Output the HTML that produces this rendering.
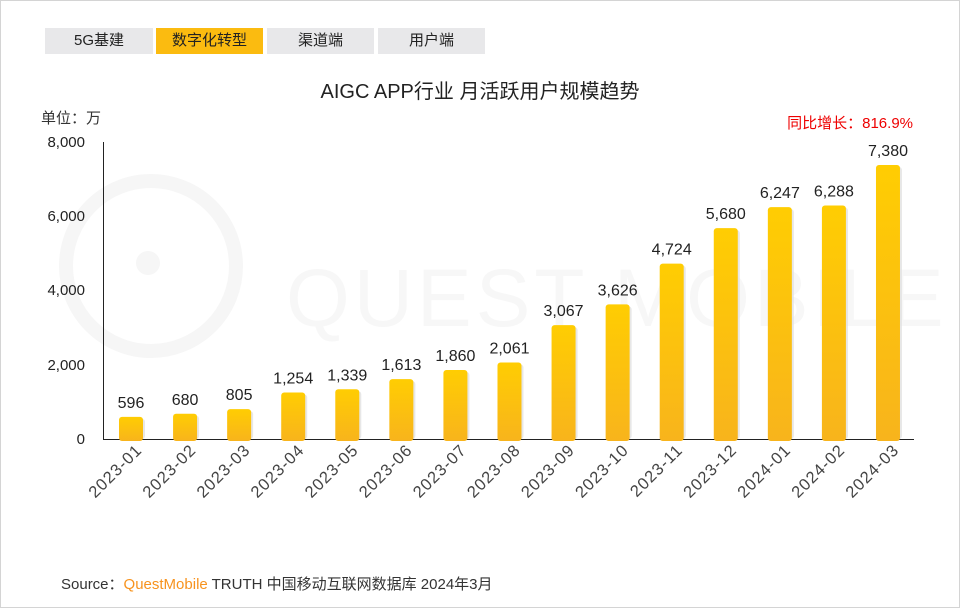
<!DOCTYPE html>
<html><head><meta charset="utf-8"><style>
body{margin:0;background:#fff;}
#w{position:relative;width:958px;height:606px;border:1px solid #d4d4d4;overflow:hidden;font-family:"Liberation Sans","Noto Sans CJK SC",sans-serif;}
.tab{position:absolute;top:27px;height:26px;line-height:26px;text-align:center;font-size:15px;color:#222;background:#e8e8ea;}
</style></head><body><div id="w">
<div class="tab" style="left:44px;width:108px">5G基建</div>
<div class="tab" style="left:155px;width:107px;background:#fbbb10">数字化转型</div>
<div class="tab" style="left:266px;width:107px">渠道端</div>
<div class="tab" style="left:377px;width:107px">用户端</div>
<svg width="958" height="606" style="position:absolute;left:0;top:0" font-family="Liberation Sans, Noto Sans CJK SC, sans-serif">
<defs><linearGradient id="g" x1="0" y1="0" x2="0" y2="1"><stop offset="0" stop-color="#ffcd02"/><stop offset="1" stop-color="#f8b41c"/></linearGradient></defs>
<g fill="none" stroke="#f6f6f6" stroke-width="14"><circle cx="150" cy="265" r="85"/></g>
<circle cx="147" cy="262" r="12" fill="#f6f6f6"/>
<text x="285" y="325" font-size="82" fill="#f7f7f7" letter-spacing="4">QUEST MOBILE</text>
<text x="479" y="97" font-size="20" fill="#222" text-anchor="middle">AIGC APP行业 月活跃用户规模趋势</text>
<text x="40" y="122" font-size="15" fill="#333">单位：万</text>
<text x="912" y="127" font-size="15" fill="#e00" text-anchor="end">同比增长：816.9%</text>
<g font-size="15" fill="#222" text-anchor="end">
<text x="84" y="146">8,000</text><text x="84" y="220">6,000</text><text x="84" y="294">4,000</text><text x="84" y="369">2,000</text><text x="84" y="443">0</text></g>
<line x1="102.5" y1="141" x2="102.5" y2="438" stroke="#222"/>
<line x1="102" y1="438.5" x2="913" y2="438.5" stroke="#222"/>
<g id="bars"></g>
<text x="60" y="588" font-size="15" fill="#333">Source：<tspan fill="#f7931e">QuestMobile</tspan> TRUTH 中国移动互联网数据库 2024年3月</text>
</svg>
<script>
var v=[596,680,805,1254,1339,1613,1860,2061,3067,3626,4724,5680,6247,6288,7380];
var l=["2023-01","2023-02","2023-03","2023-04","2023-05","2023-06","2023-07","2023-08","2023-09","2023-10","2023-11","2023-12","2024-01","2024-02","2024-03"];
var s="";
for(var i=0;i<15;i++){var cx=130+i*54.07,h=v[i]*297/8000,t=438-h;
s+='<rect x="'+(cx-10)+'" y="'+(t+2)+'" width="24" height="'+(h-2)+'" rx="3" fill="#ddd" opacity="0.7"/>';
s+='<rect x="'+(cx-12)+'" y="'+t+'" width="24" height="'+(h+2)+'" rx="3" fill="url(#g)"/>';
s+='<text x="'+cx+'" y="'+(t-9)+'" font-size="16" fill="#222" text-anchor="middle">'+v[i].toLocaleString("en-US")+'</text>';
s+='<text transform="translate('+(cx+12)+',450) rotate(-45)" font-size="16.5" letter-spacing="1" fill="#444" text-anchor="end">'+l[i]+'</text>';}
document.getElementById("bars").innerHTML=s;
</script>
</div></body></html>
